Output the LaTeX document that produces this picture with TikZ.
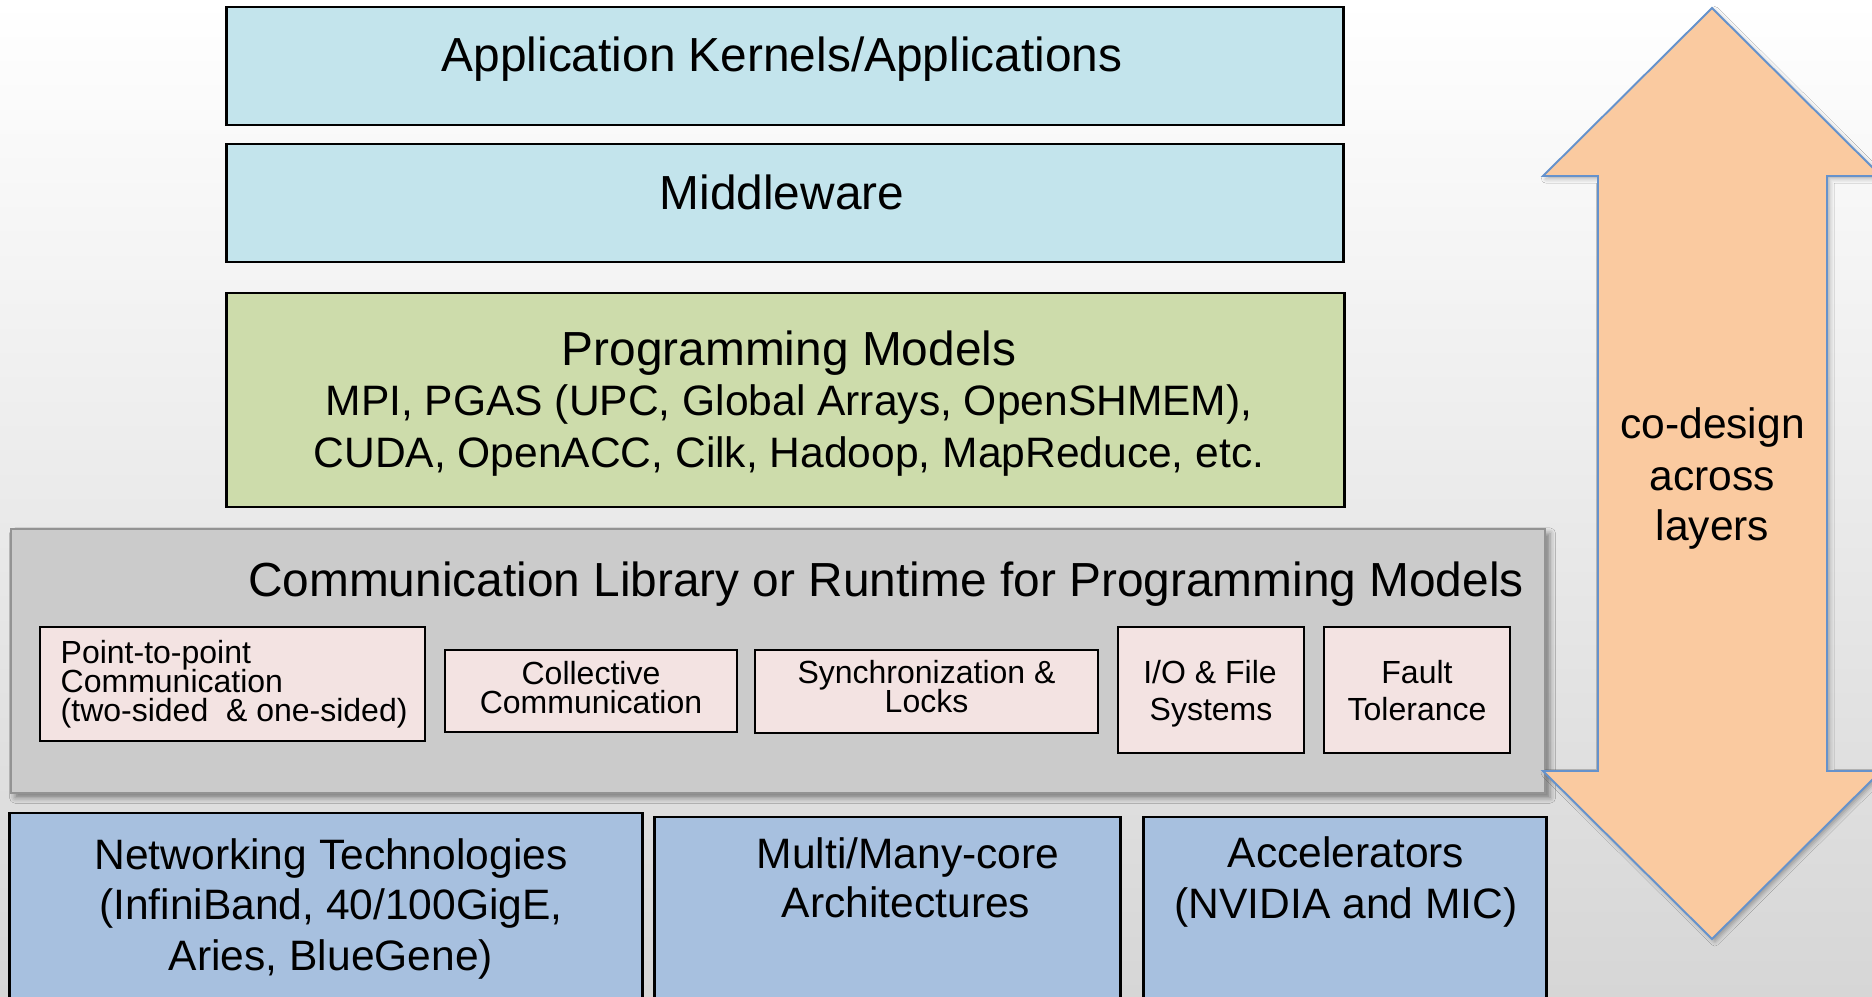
\documentclass[tikz,border=0pt]{standalone}
\usepackage{fontspec}
\setmainfont{Liberation Sans}
\usetikzlibrary{shadows.blur}

\definecolor{bgbottom}{HTML}{D6D6D6}
\definecolor{appblue}{HTML}{C3E4EC}
\definecolor{pmgreen}{HTML}{CDDCAB}
\definecolor{commgray}{HTML}{CBCBCB}
\definecolor{commedge}{HTML}{939393}
\definecolor{partpink}{HTML}{F3E3E2}
\definecolor{hwblue}{HTML}{A7C0DF}
\definecolor{arrowfill}{HTML}{FACAA0}
\definecolor{arrowedge}{HTML}{6592CC}

\newcommand{\bigtxt}{\fontsize{13.6}{16}\selectfont}
\newcommand{\midtxt}{\fontsize{12.1}{14.5}\selectfont}
\newcommand{\smalltxt}{\fontsize{9.1}{10.5}\selectfont}

\begin{document}
\begin{tikzpicture}[x=0.01cm, y=-0.01cm,
  layerbox/.style={draw=black, line width=0.8pt, inner sep=0pt, rectangle},
  partbox/.style={draw=black, line width=0.75pt, fill=partpink, inner sep=0pt, rectangle},
  txt/.style={inner sep=0pt, anchor=base},
  txtleft/.style={inner sep=0pt, anchor=base west}]

\useasboundingbox (0,0) rectangle (1872,997);
\clip (0,0) rectangle (1872,997);

% slide background
\shade[top color=white, bottom color=bgbottom] (0,0) rectangle (1872,997);

% upper software layers
\node[layerbox, fill=appblue, minimum width=11.16cm, minimum height=1.18cm] (app) at (785,66) {};
\node[layerbox, fill=appblue, minimum width=11.16cm, minimum height=1.18cm] (mid) at (785,203) {};
\node[layerbox, fill=pmgreen, minimum width=11.17cm, minimum height=2.14cm] (pm) at (785.5,400) {};

\node[txt, font=\bigtxt] (app-t) at (782,72) {Application Kernels/Applications};
\node[txt, font=\bigtxt] (mid-t) at (782,210) {Middleware};
\node[txt, font=\bigtxt] (pm-t1) at (789,365) {Programming Models};
\node[txt, font=\midtxt] (pm-t2) at (789,416) {MPI, PGAS (UPC, Global Arrays, OpenSHMEM),};
\node[txt, font=\midtxt] (pm-t3) at (789,467) {CUDA, OpenACC, Cilk, Hadoop, MapReduce, etc.};

% communication runtime layer
\node[rectangle, draw=commedge, line width=0.55pt, fill=commgray, inner sep=0pt,
      minimum width=15.34cm, minimum height=2.64cm,
      blur shadow={shadow xshift=1.3pt, shadow yshift=-1.3pt, shadow blur radius=1.6pt, shadow opacity=45}]
      (comm) at (778,661) {};
\node[txt, font=\bigtxt] (comm-t) at (886,596) {Communication Library or Runtime for Programming Models};

% runtime components
\node[partbox, minimum width=3.85cm, minimum height=1.14cm] (ptp) at (232.5,684) {};
\node[partbox, minimum width=2.92cm, minimum height=0.82cm] (coll) at (591,691) {};
\node[partbox, minimum width=3.43cm, minimum height=0.83cm] (sync) at (926.5,691.5) {};
\node[partbox, minimum width=1.86cm, minimum height=1.26cm] (io) at (1211,690) {};
\node[partbox, minimum width=1.86cm, minimum height=1.26cm] (fault) at (1417,690) {};

\node[txtleft, font=\smalltxt] (ptp-t1) at (60,663) {Point-to-point};
\node[txtleft, font=\smalltxt] (ptp-t2) at (60,692) {Communication};
\node[txtleft, font=\smalltxt] (ptp-t3) at (60,721.5) {(two-sided\ \ \& one-sided)};

\node[txt, font=\smalltxt] (coll-t1) at (591,684) {Collective};
\node[txt, font=\smalltxt] (coll-t2) at (591,713) {Communication};

\node[txt, font=\smalltxt] (sync-t1) at (926.5,683) {Synchronization \&};
\node[txt, font=\smalltxt] (sync-t2) at (926.5,712.7) {Locks};

\node[txt, font=\smalltxt] (io-t1) at (1210,683) {I/O \& File};
\node[txt, font=\smalltxt] (io-t2) at (1211,720) {Systems};

\node[txt, font=\smalltxt] (fault-t1) at (1417,683) {Fault};
\node[txt, font=\smalltxt] (fault-t2) at (1417,720) {Tolerance};

% hardware layer (boxes run past the lower edge)
\node[layerbox, fill=hwblue, minimum width=6.32cm, minimum height=1.94cm] (net) at (326,910) {};
\node[layerbox, fill=hwblue, minimum width=4.65cm, minimum height=1.90cm] (multi) at (887.5,912) {};
\node[layerbox, fill=hwblue, minimum width=4.02cm, minimum height=1.90cm] (accel) at (1345,912) {};

\node[txt, font=\midtxt] (net-t1) at (331,869) {Networking Technologies};
\node[txt, font=\midtxt] (net-t2) at (331,919) {(InfiniBand, 40/100GigE,};
\node[txt, font=\midtxt] (net-t3) at (331,970) {Aries, BlueGene)};

\node[txt, font=\midtxt] (multi-t1) at (908,868) {Multi/Many-core};
\node[txt, font=\midtxt] (multi-t2) at (906,917) {Architectures};

\node[txt, font=\midtxt] (accel-t1) at (1346,867) {Accelerators};
\node[txt, font=\midtxt] (accel-t2) at (1346,918) {(NVIDIA and MIC)};

% double-headed co-design arrow
\path[fill=arrowfill, draw=arrowedge, line width=0.55pt, line join=miter,
      blur shadow={shadow xshift=0.8pt, shadow yshift=-0.8pt, shadow blur radius=1.2pt, shadow opacity=30}]
  (1712,8) -- (1543,176) -- (1598,176) -- (1598,771) -- (1543,771) -- (1712,939)
  -- (1881,771) -- (1827,771) -- (1827,176) -- (1881,176) -- cycle;

\node[txt, font=\midtxt] (cd-t1) at (1712.5,439) {co-design};
\node[txt, font=\midtxt] (cd-t2) at (1712.5,490) {across};
\node[txt, font=\midtxt] (cd-t3) at (1712.5,540) {layers};

\end{tikzpicture}
\end{document}
